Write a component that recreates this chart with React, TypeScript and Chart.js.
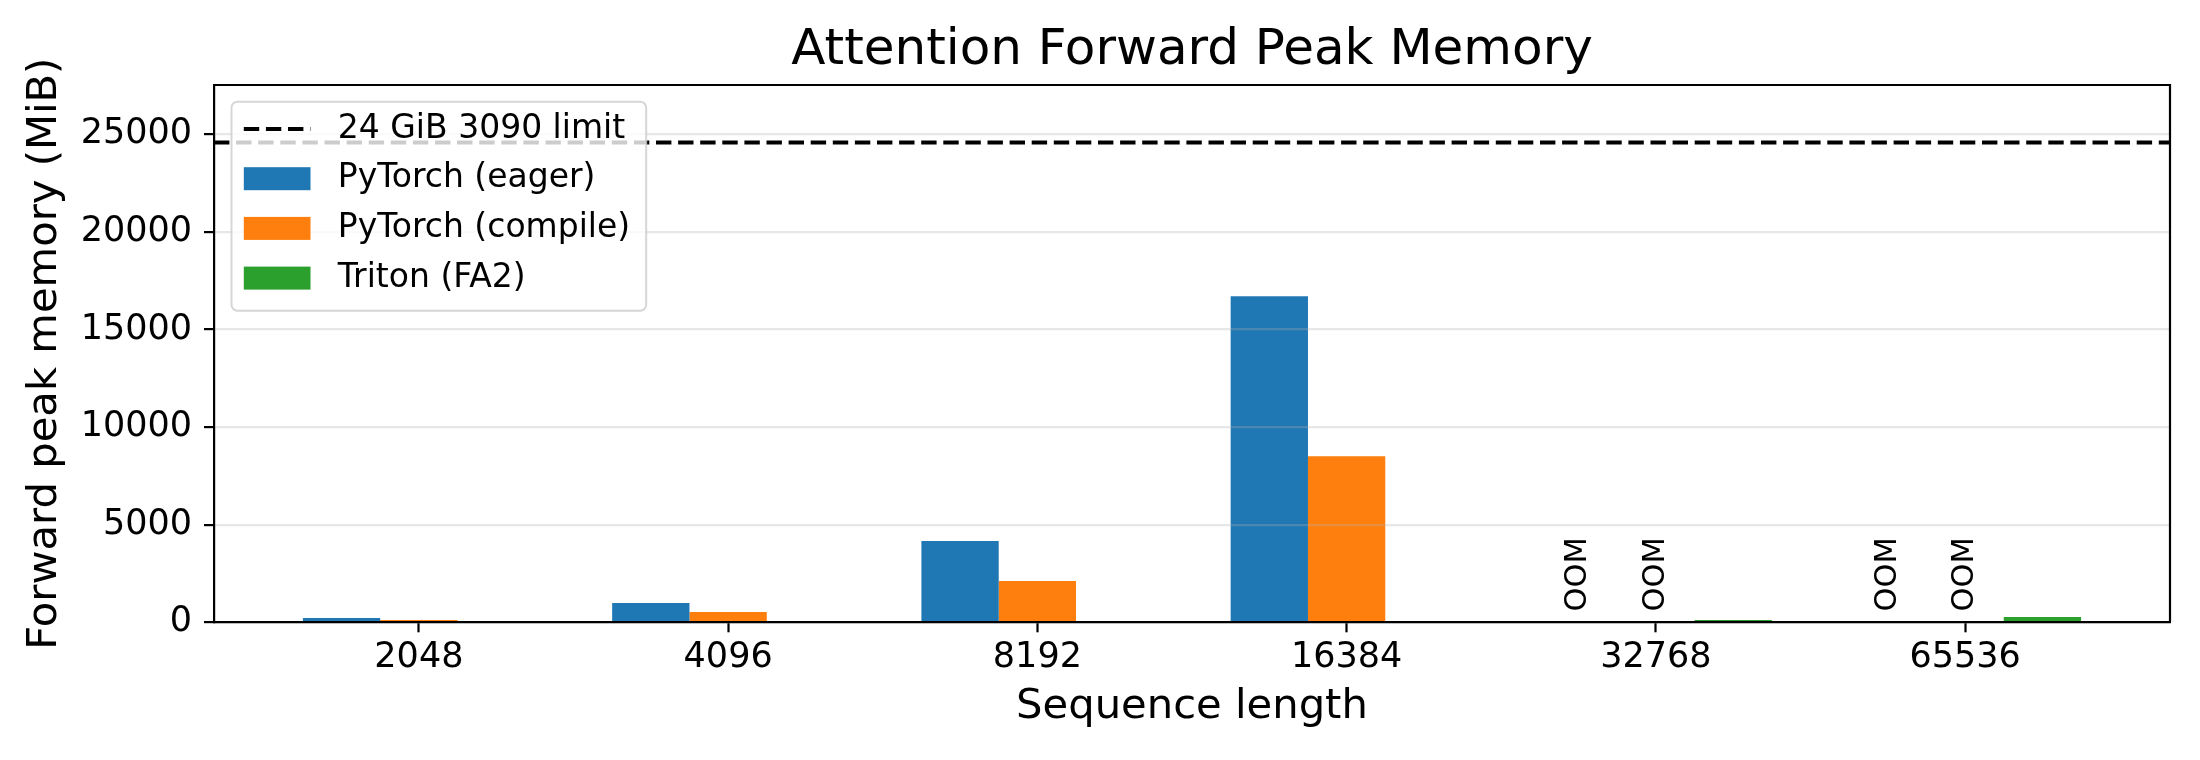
import React, { useEffect, useRef } from "react";
import { Chart, registerables } from "chart.js";

Chart.register(...registerables);

// ---- data ----
const categories = ["2048", "4096", "8192", "16384", "32768", "65536"];
const eagerMiB: (number | null)[] = [224, 990, 4160, 16700, null, null];
const compileMiB: (number | null)[] = [120, 530, 2115, 8510, null, null];
const tritonMiB: (number | null)[] = [null, null, null, null, 120, 270];
const eagerStatus = ["", "", "", "", "OOM", "OOM"];
const compileStatus = ["", "", "", "", "OOM", "OOM"];
const tritonStatus = ["", "", "", "", "", ""];
const seriesNames = ["PyTorch (eager)", "PyTorch (compile)", "Triton (FA2)"];
const seriesColors = ["#1f77b4", "#ff7f0e", "#2ca02c"];
const limitMiB = 24576;
const limitLabel = "24 GiB 3090 limit";
const yTicks = [0, 5000, 10000, 15000, 20000, 25000];
const yMax = 27525;
const xMin = -0.6625;
const xMax = 5.6625;
const oomLabelY = 550;

const chartTitle = "Attention Forward Peak Memory";
const xTitle = "Sequence length";
const yTitle = "Forward peak memory (MiB)";

const FONT = "'DejaVu Sans', 'Liberation Sans', sans-serif";
const SPINE = 2.2;

const seriesValues = [eagerMiB, compileMiB, tritonMiB];
const seriesStatus = [eagerStatus, compileStatus, tritonStatus];

const oomPlugin = {
  id: "oomLabels",
  afterDatasetsDraw(chart: any) {
    const { ctx } = chart;
    const xScale = chart.scales.x;
    const yScale = chart.scales.y;
    const unit = xScale.getPixelForValue(1) - xScale.getPixelForValue(0);
    ctx.save();
    ctx.font = `30.5px ${FONT}`;
    ctx.fillStyle = "#000";
    ctx.textAlign = "left";
    ctx.textBaseline = "middle";
    seriesStatus.forEach((statuses, d) => {
      const meta = chart.getDatasetMeta(d);
      statuses.forEach((s, i) => {
        if (!s) return;
        let x = meta.data[i] ? meta.data[i].x : NaN;
        if (!isFinite(x)) {
          x = xScale.getPixelForValue(i) + (d - 1) * unit * 0.25;
        }
        const y = yScale.getPixelForValue(oomLabelY);
        ctx.save();
        ctx.translate(x, y);
        ctx.rotate(-Math.PI / 2);
        ctx.fillText(s, 0, 0);
        ctx.restore();
      });
    });
    ctx.restore();
  },
};

const framePlugin = {
  id: "frame",
  afterDraw(chart: any) {
    const { ctx, chartArea } = chart;
    ctx.save();
    ctx.strokeStyle = "#000";
    ctx.lineWidth = SPINE;
    ctx.beginPath();
    ctx.moveTo(chartArea.left, chartArea.top);
    ctx.lineTo(chartArea.right, chartArea.top);
    ctx.lineTo(chartArea.right, chartArea.bottom);
    ctx.stroke();
    ctx.restore();
  },
};

const legendPlugin = {
  id: "boxLegend",
  afterDraw(chart: any) {
    const { ctx, chartArea } = chart;
    ctx.save();
    ctx.font = `33px ${FONT}`;
    const entries = [
      { kind: "line", label: limitLabel, color: "#000" },
      ...seriesNames.map((n, i) => ({ kind: "patch", label: n, color: seriesColors[i] })),
    ];
    const x0 = chartArea.left + 17.5;
    const y0 = chartArea.top + 16.7;
    const handleX = x0 + 12.3;
    const handleW = 66.7;
    const textX = x0 + 106.3;
    const rowH = 49.7;
    const firstRow = y0 + 27.3;
    const maxW = Math.max(...entries.map((e) => ctx.measureText(e.label).width));
    const w = textX + maxW + 16 - x0;
    const h = 209;
    const r = 6;
    ctx.beginPath();
    ctx.moveTo(x0 + r, y0);
    ctx.lineTo(x0 + w - r, y0);
    ctx.arcTo(x0 + w, y0, x0 + w, y0 + r, r);
    ctx.lineTo(x0 + w, y0 + h - r);
    ctx.arcTo(x0 + w, y0 + h, x0 + w - r, y0 + h, r);
    ctx.lineTo(x0 + r, y0 + h);
    ctx.arcTo(x0, y0 + h, x0, y0 + h - r, r);
    ctx.lineTo(x0, y0 + r);
    ctx.arcTo(x0, y0, x0 + r, y0, r);
    ctx.closePath();
    ctx.fillStyle = "rgba(255,255,255,0.8)";
    ctx.fill();
    ctx.strokeStyle = "rgba(204,204,204,0.8)";
    ctx.lineWidth = 2;
    ctx.stroke();

    entries.forEach((e, k) => {
      const cy = firstRow + k * rowH;
      if (e.kind === "line") {
        ctx.save();
        ctx.strokeStyle = e.color;
        ctx.lineWidth = 4;
        ctx.setLineDash([15.4, 6.7]);
        ctx.beginPath();
        ctx.moveTo(handleX, cy);
        ctx.lineTo(handleX + handleW, cy);
        ctx.stroke();
        ctx.restore();
      } else {
        ctx.fillStyle = e.color;
        ctx.fillRect(handleX, cy - 11.5, handleW, 23);
      }
      ctx.fillStyle = "#000";
      ctx.textAlign = "left";
      ctx.textBaseline = "middle";
      ctx.fillText(e.label, textX, cy);
    });
    ctx.restore();
  },
};

export default function App() {
  const canvasRef = useRef<HTMLCanvasElement | null>(null);

  useEffect(() => {
    document.body.style.margin = "0";
    document.body.style.overflow = "hidden";
    const canvas = canvasRef.current;
    if (!canvas) return;

    const barSets = seriesNames.map((name, d) => ({
      type: "bar" as const,
      label: name,
      data: categories.map((_, i) => ({ x: i, y: seriesValues[d][i] })),
      backgroundColor: seriesColors[d],
      borderWidth: 0,
      categoryPercentage: 0.75,
      barPercentage: 1.0,
      order: 2,
    }));

    const limitSet = {
      type: "line" as const,
      label: limitLabel,
      data: [
        { x: xMin, y: limitMiB },
        { x: xMax, y: limitMiB },
      ],
      borderColor: "#000",
      borderWidth: 4,
      borderDash: [15.4, 6.7],
      pointRadius: 0,
      fill: false,
      order: 0,
    };

    const chart = new Chart(canvas, {
      type: "bar",
      data: { datasets: [...barSets, limitSet] as any },
      options: {
        animation: false,
        responsive: false,
        devicePixelRatio: 1,
        events: [],
        layout: { padding: { left: 0, right: 30, top: 0, bottom: 0 } },
        plugins: {
          legend: { display: false },
          tooltip: { enabled: false },
          title: {
            display: true,
            text: chartTitle,
            fullSize: false,
            color: "#000",
            font: { family: FONT, size: 50, weight: "normal", lineHeight: 1.2 },
            padding: { top: 21, bottom: 4 },
          },
        },
        scales: {
          x: {
            type: "linear",
            min: xMin,
            max: xMax,
            offset: false,
            afterBuildTicks: (scale: any) => {
              scale.ticks = categories.map((_, i) => ({ value: i }));
            },
            afterFit: (scale: any) => {
              scale.height = 137.7;
            },
            ticks: {
              color: "#000",
              font: { family: FONT, size: 35 },
              padding: 4.5,
              maxRotation: 0,
              autoSkip: false,
              callback: (v: any) => categories[Math.round(Number(v))] ?? "",
            },
            grid: {
              offset: false,
              drawOnChartArea: false,
              drawTicks: true,
              tickLength: 10,
              tickColor: "#000",
              tickWidth: SPINE,
            },
            border: { display: true, color: "#000", width: SPINE, z: 2 },
            title: {
              display: true,
              text: xTitle,
              color: "#000",
              font: { family: FONT, size: 41.7, lineHeight: 1.2 },
              padding: { top: 0, bottom: 28 },
            },
          },
          y: {
            type: "linear",
            min: 0,
            max: yMax,
            afterBuildTicks: (scale: any) => {
              scale.ticks = yTicks.map((v) => ({ value: v }));
            },
            afterFit: (scale: any) => {
              scale.width = 214;
            },
            ticks: {
              color: "#000",
              font: { family: FONT, size: 35 },
              padding: 12,
              callback: (v: any) => String(v),
            },
            grid: {
              color: "rgba(176,176,176,0.3)",
              lineWidth: SPINE,
              drawTicks: true,
              tickLength: 10,
              tickColor: "#000",
              tickWidth: SPINE,
              z: 1,
            },
            border: { display: true, color: "#000", width: SPINE, z: 2 },
            title: {
              display: true,
              text: yTitle,
              color: "#000",
              font: { family: FONT, size: 41.7, lineHeight: 1.2 },
              padding: { top: 20.5, bottom: 0 },
            },
          },
        },
      } as any,
      plugins: [oomPlugin, framePlugin, legendPlugin],
    });

    return () => {
      chart.destroy();
    };
  }, []);

  return (
    <div style={{ width: 2200, height: 760, background: "#fff" }}>
      <canvas ref={canvasRef} width={2200} height={760} style={{ display: "block", width: 2200, height: 760 }} />
    </div>
  );
}
